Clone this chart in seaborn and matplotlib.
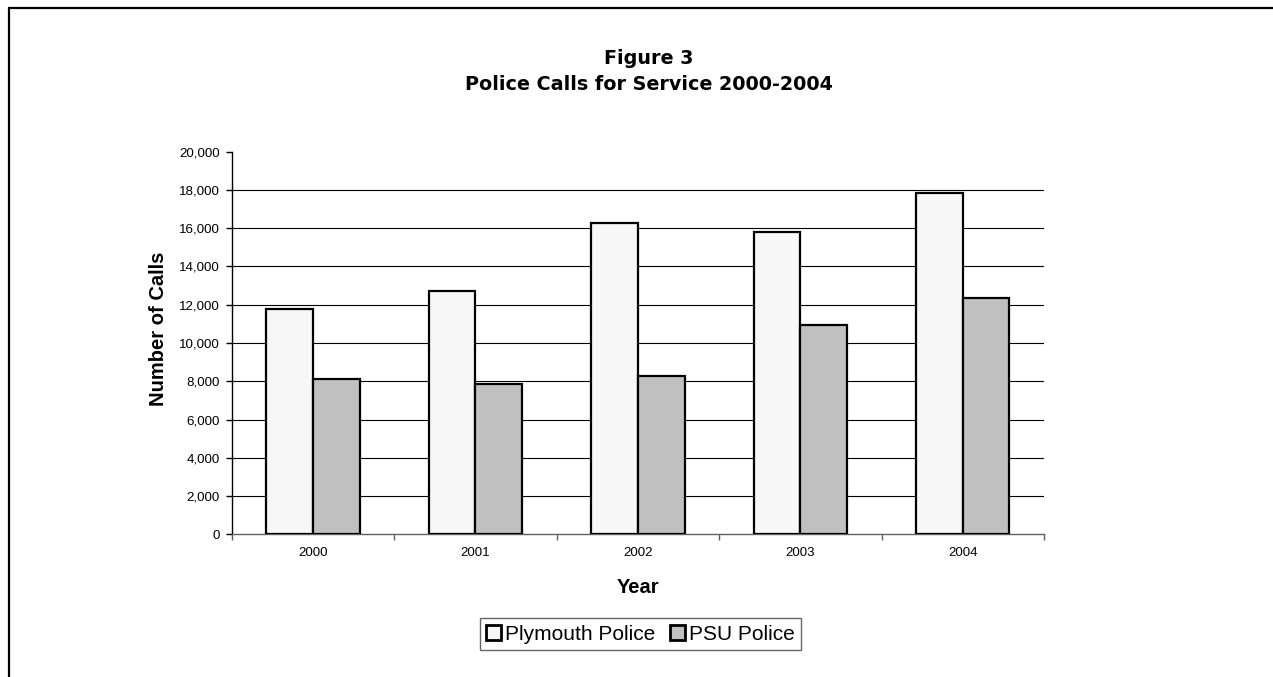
import numpy as np
import pandas as pd
import matplotlib
matplotlib.use("Agg")
import matplotlib.pyplot as plt
import seaborn as sns
from matplotlib.lines import Line2D
from matplotlib.ticker import FuncFormatter

# chart values
years = ["2000", "2001", "2002", "2003", "2004"]
plymouth_calls = [11800, 12700, 16250, 15800, 17850]
psu_calls = [8100, 7850, 8300, 10950, 12350]
series_names = ["Plymouth Police", "PSU Police"]
series_colors = ["#F7F7F7", "#C0C0C0"]
y_ticks = list(range(0, 20001, 2000))


def build_frame():
    """Long-form table for seaborn."""
    rows = []
    for i, yr in enumerate(years):
        rows.append({"Year": yr, "Calls": plymouth_calls[i], "Agency": series_names[0]})
        rows.append({"Year": yr, "Calls": psu_calls[i], "Agency": series_names[1]})
    return pd.DataFrame(rows)


sns.set_theme(style="white")
plt.rcParams["font.family"] = ["Liberation Sans", "DejaVu Sans"]
plt.rcParams.update({"text.color": "black", "axes.labelcolor": "black",
                     "xtick.color": "black", "ytick.color": "black"})

df = build_frame()

fig = plt.figure(figsize=(12.73, 6.77), dpi=100)
ax = fig.add_axes([0.182, 0.2105, 0.6381, 0.5657])

sns.barplot(data=df, x="Year", y="Calls", hue="Agency", order=years,
            hue_order=series_names, palette=dict(zip(series_names, series_colors)),
            width=0.575, edgecolor="black", linewidth=1.6, saturation=1,
            errorbar=None, ax=ax, zorder=3)

ax.set_ylim(0, 20000)
ax.set_xlim(-0.5, len(years) - 0.5)
ax.set_yticks(y_ticks)
ax.yaxis.set_major_formatter(FuncFormatter(lambda v, p: f"{int(v):,}"))
ax.tick_params(axis="y", which="major", direction="out", length=4.3, width=1,
               color="black", pad=4.3, labelsize=9.6, left=True)

# category boundary ticks on x, labels at category centres
ax.set_xticks(np.arange(-0.5, len(years), 1.0))
ax.set_xticklabels([])
ax.set_xticks(range(len(years)), minor=True)
ax.set_xticklabels(years, minor=True)
ax.tick_params(axis="x", which="major", direction="out", length=4, width=1,
               color="#606060", bottom=True)
ax.tick_params(axis="x", which="minor", length=0, pad=9, labelsize=9.6)

ax.yaxis.grid(True, color="black", linewidth=0.8, zorder=0)
ax.set_axisbelow(True)
gl = ax.get_ygridlines()
gl[0].set_visible(False)
gl[-1].set_visible(False)

for s in ["top", "right"]:
    ax.spines[s].set_visible(False)
ax.spines["left"].set_color("black")
ax.spines["left"].set_linewidth(1)
ax.spines["bottom"].set_color("#606060")
ax.spines["bottom"].set_linewidth(1)

ax.set_xlabel("Year", fontsize=14.5, fontweight="bold")
ax.xaxis.set_label_coords(0.5, -0.1384)
ax.xaxis.label.set_va("center")
ax.set_ylabel("Number of Calls", fontsize=14.5, fontweight="bold")
ax.yaxis.set_label_coords(-0.0899, 0.5366)
ax.yaxis.label.set_va("center")

fig.text(0.5098, 1 - 64.3 / 677, "Figure 3", ha="center", va="baseline",
         fontsize=13.8, fontweight="bold", family=["DejaVu Sans"])
fig.text(0.5098, 1 - 90 / 677, "Police Calls for Service 2000-2004", ha="center",
         va="baseline", fontsize=13.8, fontweight="bold", family=["DejaVu Sans"])

ax.get_legend().remove()
handles = [plt.Rectangle((0, 0), 1, 1, facecolor=c, edgecolor="black", linewidth=2)
           for c in series_colors]
leg = fig.legend(handles, series_names, loc="center", ncol=2,
                 bbox_to_anchor=(640.5 / 1273, 1 - 634.2 / 677),
                 fontsize=15, frameon=True, fancybox=False, shadow=False,
                 handlelength=0.7, handleheight=0.7, handletextpad=0.2,
                 columnspacing=0.7, borderpad=0.3)
leg.get_frame().set_edgecolor("#404040")
leg.get_frame().set_linewidth(1)

# outer chart frame (left and top edges visible)
fx = 9 / 1273
fy = 1 - 7.8 / 677
fig.add_artist(Line2D([fx, fx], [0, fy], transform=fig.transFigure, color="black", linewidth=1.6))
fig.add_artist(Line2D([fx, 1], [fy, fy], transform=fig.transFigure, color="black", linewidth=1.6))

fig.savefig("out.png", dpi=100, facecolor="white")
plt.close(fig)
